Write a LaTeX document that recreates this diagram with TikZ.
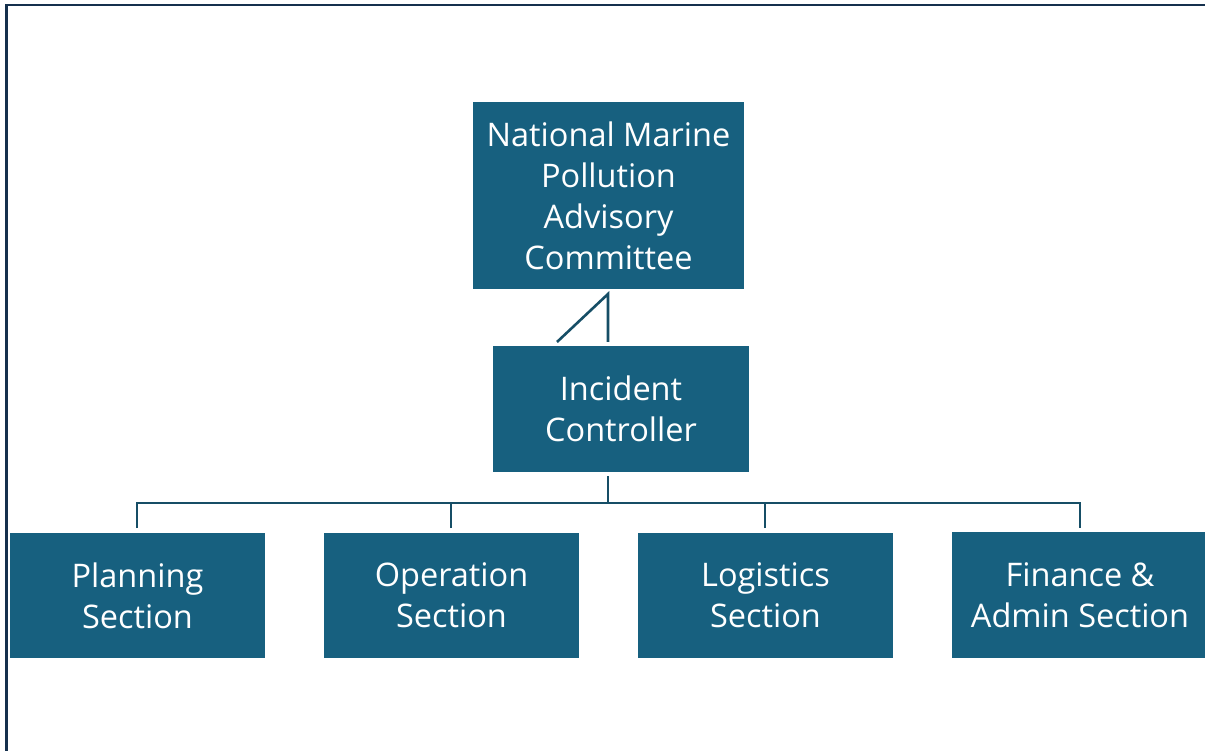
\documentclass[tikz,border=0pt]{standalone}
\usepackage{fontspec}
\setmainfont{Open Sans}
\definecolor{boxfill}{HTML}{17607F}
\definecolor{linecol}{HTML}{164E66}
\definecolor{framecol}{HTML}{15304D}
\begin{document}
\begin{tikzpicture}[x=1pt,y=-1pt,
  orgbox/.style={fill=boxfill, draw=none, text=white, align=center, inner sep=0pt,
    font=\fontsize{32.5}{41}\selectfont},
  link/.style={draw=linecol, line width=2.6pt},
  frame/.style={draw=framecol, line width=2.2pt}]
\useasboundingbox (0,0) rectangle (1205,751);
\begin{scope}
\clip (0,0) rectangle (1205,751);
\draw[frame] (6.5,751) -- (6.5,5) -- (1210,5);
\node[orgbox, minimum width=271pt, minimum height=187pt] (nmp) at (608.5,195.5) {National Marine\\Pollution\\Advisory\\Committee};
\node[orgbox, minimum width=256pt, minimum height=126pt] (ic) at (621,409) {Incident\\Controller};
\node[orgbox, minimum width=255pt, minimum height=125pt] (plan) at (137.5,595.5) {Planning\\Section};
\node[orgbox, minimum width=255pt, minimum height=125pt] (oper) at (451.5,595.5) {Operation\\Section};
\node[orgbox, minimum width=255pt, minimum height=125pt] (logi) at (765.5,595.5) {Logistics\\Section};
\node[orgbox, minimum width=256pt, minimum height=126pt] (fin) at (1080,595) {Finance \&\\Admin Section};
\coordinate (vtop) at (608,294);
\coordinate (vbot) at (608,342);
\coordinate (dbot) at (557,342);
\draw[link] (dbot) -- (vtop) -- (vbot);
\coordinate (stemtop) at (608,476);
\coordinate (bus) at (608,503);
\draw[link] (stemtop) -- (bus);
\draw[link] (137,528) |- (bus) -| (1080,528);
\draw[link] (451,528) -- (451,503);
\draw[link] (765,528) -- (765,503);
\end{scope}
\end{tikzpicture}
\end{document}
